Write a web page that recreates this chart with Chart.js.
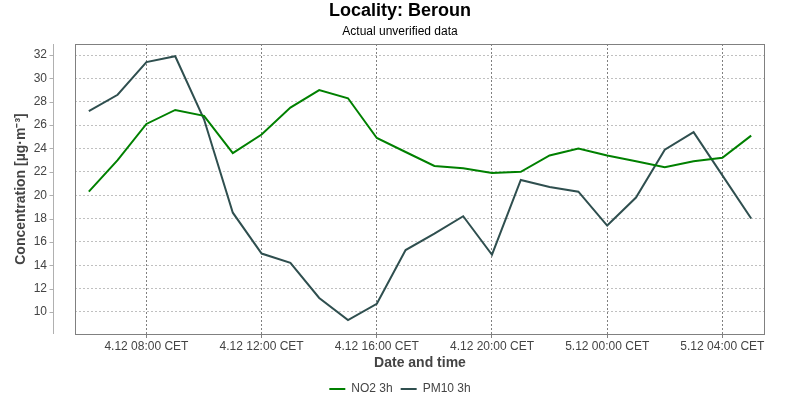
<!DOCTYPE html>
<html>
<head>
<meta charset="utf-8">
<script src="https://cdn.jsdelivr.net/npm/chart.js@4.4.0/dist/chart.umd.min.js"></script>
<style>
  html, body { margin: 0; padding: 0; background: #fff; }
  #wrap { width: 800px; height: 400px; }
</style>
</head>
<body>
<div id="wrap"><canvas id="chart"></canvas></div>
<script>
// hours since 4.12 00:00, one reading per hour
const hours = [6, 7, 8, 9, 10, 11, 12, 13, 14, 15, 16, 17, 18, 19, 20, 21, 22, 23, 24, 25, 26, 27, 28, 29];
const no2 = [20.3, 23.0, 26.1, 27.3, 26.8, 23.6, 25.2, 27.5, 29.0, 28.3, 24.9, 23.7, 22.5, 22.3, 21.9, 22.0, 23.4, 24.0, 23.4, 22.9, 22.4, 22.9, 23.2, 25.1];
const pm10 = [27.2, 28.6, 31.4, 31.9, 26.5, 18.5, 15.0, 14.2, 11.2, 9.3, 10.7, 15.3, 16.7, 18.2, 14.9, 21.3, 20.7, 20.3, 17.4, 19.8, 23.9, 25.4, 21.7, 18.0];

const xTickHours = [8, 12, 16, 20, 24, 28];
const xTickLabels = ['4.12 08:00 CET', '4.12 12:00 CET', '4.12 16:00 CET', '4.12 20:00 CET', '5.12 00:00 CET', '5.12 04:00 CET'];
const yTicks = [10, 12, 14, 16, 18, 20, 22, 24, 26, 28, 30, 32];

const font = 'Liberation Sans, Arial, sans-serif';

// plot frame plus the detached y axis line on the left
const framePlugin = {
    id: 'frame',
    afterDatasetsDraw(chart) {
        const { ctx, chartArea } = chart;
        const y = chart.scales.y;
        ctx.save();
        ctx.lineWidth = 1;
        ctx.strokeStyle = '#808080';
        ctx.strokeRect(Math.round(chartArea.left) + 0.5, Math.round(chartArea.top) + 0.5,
            Math.round(chartArea.right - chartArea.left) - 1, Math.round(chartArea.bottom - chartArea.top));
        const ax = Math.round(chartArea.left) - 22 + 0.5;
        ctx.strokeStyle = '#b0b0b0';
        ctx.beginPath();
        ctx.moveTo(ax, chartArea.top);
        ctx.lineTo(ax, chartArea.bottom);
        yTicks.forEach(v => {
            const py = Math.round(y.getPixelForValue(v)) + 0.5;
            ctx.moveTo(ax - 4, py);
            ctx.lineTo(ax, py);
        });
        ctx.stroke();
        ctx.restore();
    }
};

const ctx = document.getElementById('chart').getContext('2d');
new Chart(ctx, {
    type: 'line',
    data: {
        datasets: [{
            label: 'NO2 3h',
            data: hours.map((h, i) => ({ x: h, y: no2[i] })),
            borderColor: '#008000',
            backgroundColor: '#008000',
            borderWidth: 2,
            pointRadius: 0,
            tension: 0
        }, {
            label: 'PM10 3h',
            data: hours.map((h, i) => ({ x: h, y: pm10[i] })),
            borderColor: '#2f4f4f',
            backgroundColor: '#2f4f4f',
            borderWidth: 2,
            pointRadius: 0,
            tension: 0
        }]
    },
    options: {
        responsive: true,
        maintainAspectRatio: false,
        animation: false,
        layout: { padding: { left: 0, right: 0, top: 0, bottom: -5 } },
        plugins: {
            title: {
                display: true,
                text: 'Locality: Beroun',
                color: '#000',
                font: { family: font, size: 18, weight: 'bold' },
                padding: { top: 0, bottom: 0 }
            },
            subtitle: {
                display: true,
                text: 'Actual unverified data',
                color: '#000',
                font: { family: font, size: 12 },
                padding: { top: 3, bottom: 5 }
            },
            legend: {
                position: 'bottom',
                labels: {
                    usePointStyle: true,
                    pointStyle: 'line',
                    pointStyleWidth: 16,
                    boxHeight: 12,
                    color: '#444',
                    padding: 8,
                    font: { family: font, size: 12 }
                }
            },
            tooltip: { enabled: false }
        },
        scales: {
            x: {
                type: 'linear',
                min: 5.52,
                max: 29.48,
                afterBuildTicks: s => { s.ticks = xTickHours.map(v => ({ value: v })); },
                ticks: {
                    autoSkip: false,
                    maxRotation: 0,
                    padding: 1,
                    color: '#444',
                    font: { family: font, size: 12 },
                    callback: v => xTickLabels[xTickHours.indexOf(v)]
                },
                grid: { color: '#808080', tickColor: '#808080', tickLength: 4 },
                border: { display: false, dash: [2, 2] },
                title: {
                    display: true,
                    text: 'Date and time',
                    color: '#444',
                    font: { family: font, size: 14, weight: 'bold' },
                    padding: { top: 0, bottom: 3.8 }
                }
            },
            y: {
                min: 8.11,
                max: 32.95,
                afterBuildTicks: s => { s.ticks = yTicks.map(v => ({ value: v })); },
                afterFit: s => { s.width = 75; },
                ticks: {
                    padding: 28,
                    color: '#444',
                    font: { family: font, size: 12 }
                },
                grid: { color: '#c0c0c0', drawTicks: false },
                border: { display: false, dash: [2, 2] },
                title: {
                    display: true,
                    text: 'Concentration [µg·m⁻³]',
                    color: '#444',
                    font: { family: font, size: 14, weight: 'bold' },
                    padding: { top: 12.6, bottom: 0 }
                }
            },
            // empty right-hand gutter so titles and legend stay centred on the page
            gutter: {
                type: 'linear',
                position: 'right',
                display: true,
                afterFit: s => { s.width = 35; },
                ticks: { display: false },
                grid: { display: false },
                border: { display: false }
            }
        }
    },
    plugins: [framePlugin]
});
</script>
</body>
</html>
